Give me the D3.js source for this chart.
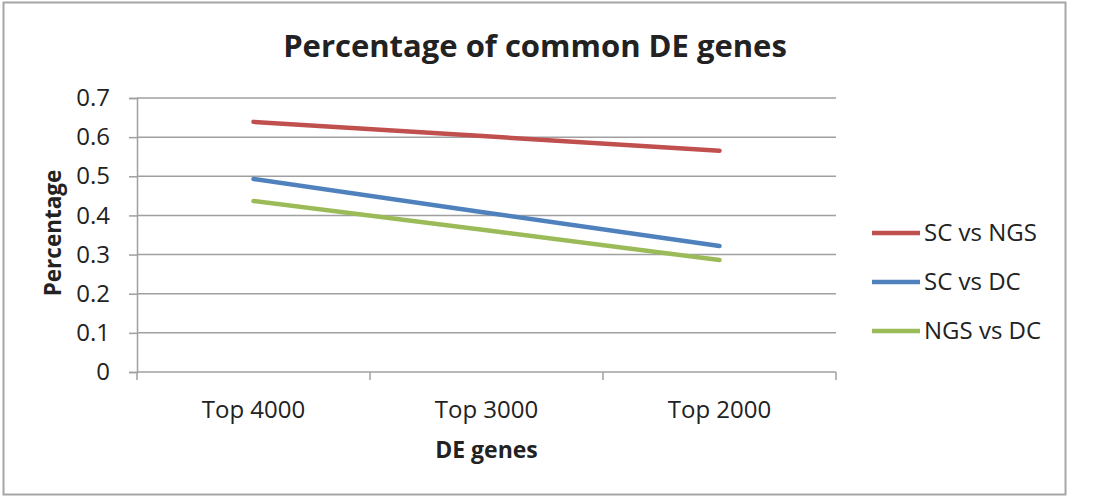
<!DOCTYPE html>
<html>
<head>
<meta charset="utf-8">
<script src="https://cdn.jsdelivr.net/npm/d3@7"></script>
<style>
  body { margin: 0; background: #fff; }
  text { font-family: "Open Sans", sans-serif; fill: #222; }
</style>
</head>
<body>
<div id="root"></div>
<script>
// data
const categories = ['Top 4000', 'Top 3000', 'Top 2000'];
const seriesNames = ['SC vs NGS', 'SC vs DC', 'NGS vs DC'];
const scVsNgs = [0.639, 0.602, 0.565];
const scVsDc = [0.493, 0.407, 0.322];
const ngsVsDc = [0.437, 0.362, 0.286];
const yTicks = [0, 0.1, 0.2, 0.3, 0.4, 0.5, 0.6, 0.7];
const colors = ['#c0504d', '#4f81bd', '#9bbb59'];

const width = 1119, height = 498;
const margin = { left: 137, right: 283, top: 98, bottom: 126 };

const svg = d3.select('#root').append('svg')
  .attr('width', width)
  .attr('height', height)
  .attr('viewBox', [0, 0, width, height]);

// outer chart frame
svg.append('rect')
  .attr('x', 3.5).attr('y', 2.5)
  .attr('width', 1062).attr('height', 492)
  .attr('fill', '#fff')
  .attr('stroke', '#a6a6a6')
  .attr('stroke-width', 2);

const x = d3.scaleBand()
  .domain(categories)
  .range([margin.left, width - margin.right]);

const y = d3.scaleLinear()
  .domain([0, 0.7])
  .range([height - margin.bottom, margin.top]);

// gridlines
svg.append('g')
  .selectAll('line')
  .data(yTicks.filter((d) => d > 0))
  .join('line')
  .attr('x1', margin.left)
  .attr('x2', width - margin.right)
  .attr('y1', (d) => y(d))
  .attr('y2', (d) => y(d))
  .attr('stroke', '#a0a0a0')
  .attr('stroke-width', 1.5);

// y axis
const yAxis = svg.append('g')
  .attr('transform', `translate(${margin.left},0)`)
  .call(d3.axisLeft(y).tickValues(yTicks).tickSize(8).tickPadding(19)
    .tickFormat((d) => d === 0 ? '0' : d3.format('.1f')(d)));
yAxis.select('.domain').attr('stroke', '#a0a0a0').attr('stroke-width', 1.5);
yAxis.selectAll('.tick line').attr('stroke', '#a0a0a0').attr('stroke-width', 1.5);
yAxis.selectAll('.tick text')
  .attr('font-family', '"Open Sans", sans-serif')
  .attr('font-size', 24)
  .attr('fill', '#222');

// x axis, ticks at band edges
const xAxis = svg.append('g')
  .attr('transform', `translate(0,${y(0)})`);
xAxis.append('line')
  .attr('x1', margin.left).attr('x2', width - margin.right)
  .attr('stroke', '#a0a0a0').attr('stroke-width', 1.5);
const edges = categories.map((c) => x(c)).concat([x.range()[1]]);
xAxis.selectAll('line.edge')
  .data(edges)
  .join('line')
  .attr('class', 'edge')
  .attr('x1', (d) => d).attr('x2', (d) => d)
  .attr('y1', 0).attr('y2', 8)
  .attr('stroke', '#a0a0a0').attr('stroke-width', 1.5);
xAxis.selectAll('text')
  .data(categories)
  .join('text')
  .attr('x', (d) => x(d) + x.bandwidth() / 2)
  .attr('y', 46)
  .attr('text-anchor', 'middle')
  .attr('font-size', 24)
  .text((d) => d);

// lines
const series = [scVsNgs, scVsDc, ngsVsDc];
const line = d3.line()
  .x((d, i) => x(categories[i]) + x.bandwidth() / 2)
  .y((d) => y(d));

svg.append('g')
  .selectAll('path')
  .data(series)
  .join('path')
  .attr('d', line)
  .attr('fill', 'none')
  .attr('stroke', (d, i) => colors[i])
  .attr('stroke-width', 4.5)
  .attr('stroke-linecap', 'round');

// title
svg.append('text')
  .attr('x', 535)
  .attr('y', 57)
  .attr('text-anchor', 'middle')
  .attr('font-size', 31)
  .attr('font-weight', 'bold')
  .attr('fill', '#111')
  .text('Percentage of common DE genes');

// axis titles
svg.append('text')
  .attr('x', x.range()[0] + (x.range()[1] - x.range()[0]) / 2)
  .attr('y', 458)
  .attr('text-anchor', 'middle')
  .attr('font-size', 23)
  .attr('font-weight', 'bold')
  .text('DE genes');

svg.append('text')
  .attr('transform', 'translate(61,233) rotate(-90)')
  .attr('text-anchor', 'middle')
  .attr('font-size', 22.5)
  .attr('font-weight', 'bold')
  .text('Percentage');

// legend
const legend = svg.append('g')
  .selectAll('g')
  .data(seriesNames)
  .join('g')
  .attr('transform', (d, i) => `translate(872,${233 + i * 49})`);
legend.append('line')
  .attr('x1', 0).attr('x2', 48)
  .attr('stroke', (d, i) => colors[i])
  .attr('stroke-width', 4.5);
legend.append('text')
  .attr('x', 52)
  .attr('dy', '0.35em')
  .attr('font-size', 24)
  .text((d) => d);
</script>
</body>
</html>
